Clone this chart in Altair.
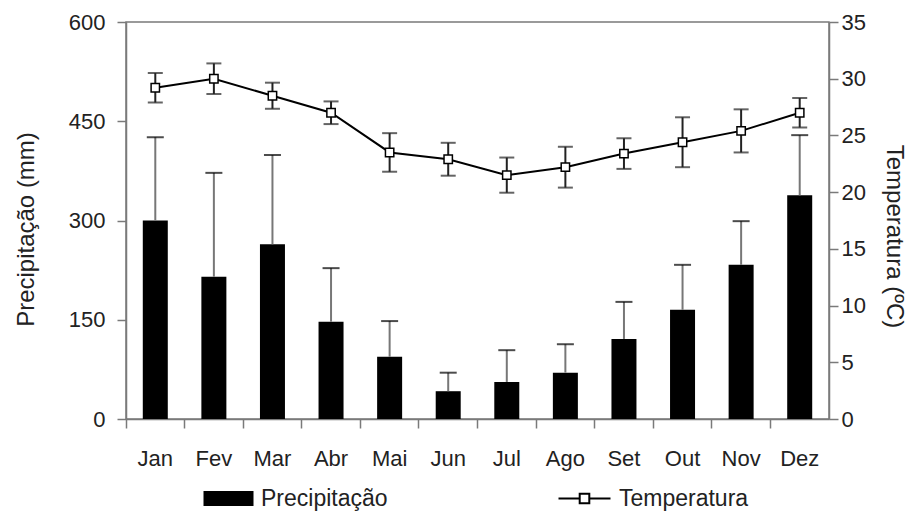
import altair as alt
import pandas as pd

months = ["Jan", "Fev", "Mar", "Abr", "Mai", "Jun", "Jul", "Ago", "Set", "Out", "Nov", "Dez"]
precip = [300, 215, 264, 147, 94, 42, 56, 70, 121, 165, 233, 338]
precip_err = [126, 157, 135, 81, 54, 28, 48, 43, 56, 68, 66, 91]
temp = [29.2, 30.0, 28.5, 27.0, 23.5, 22.9, 21.5, 22.2, 23.4, 24.4, 25.4, 27.0]
temp_err = [1.3, 1.35, 1.15, 1.0, 1.7, 1.45, 1.55, 1.8, 1.35, 2.2, 1.9, 1.3]
precip_ticks = [0, 150, 300, 450, 600]
temp_ticks = [0, 5, 10, 15, 20, 25, 30, 35]

df = pd.DataFrame({
    "mes": months,
    "precip": precip,
    "precip_top": [p + e for p, e in zip(precip, precip_err)],
    "temp": temp,
    "temp_lo": [t - e for t, e in zip(temp, temp_err)],
    "temp_hi": [t + e for t, e in zip(temp, temp_err)],
    "s1": "Precipitação",
    "s2": "Temperatura",
})

FONT = "Liberation Sans"
TXT = "#222222"
AX = "#7a7a7a"
LFS = 22   # tick labels
TFS = 24   # axis titles
GFS = 23   # legend labels

xenc = alt.X(
    "mes:N", sort=months,
    scale=alt.Scale(paddingInner=0, paddingOuter=0),
    axis=alt.Axis(title=None, bandPosition=0, labelAngle=0, labelFontSize=LFS,
                  labelFont=FONT, labelColor=TXT, labelPadding=20, tickSize=9,
                  tickColor=AX, domainColor=AX, domainWidth=1.5, tickWidth=1.5),
)

ax_p = alt.Axis(values=precip_ticks, title="Precipitação (mm)", titleFontSize=TFS,
                titleFont=FONT, titleFontWeight="normal", titleColor=TXT,
                labelFontSize=LFS, labelFont=FONT, labelColor=TXT, tickSize=9,
                tickColor=AX, domainColor=AX, domainWidth=1.5, tickWidth=1.5,
                labelPadding=12, titlePadding=30, titleY=207, grid=False)
ax_t = alt.Axis(orient="right", values=temp_ticks, title="Temperatura (ºC)",
                titleFontSize=TFS, titleFont=FONT, titleFontWeight="normal",
                titleColor=TXT, labelFontSize=LFS, labelFont=FONT, labelColor=TXT,
                tickSize=9, tickColor=AX, domainColor=AX, domainWidth=1.5,
                tickWidth=1.5, labelPadding=3, titlePadding=16, titleY=214, grid=False)
sc_p = alt.Scale(domain=[0, 600])
sc_t = alt.Scale(domain=[0, 35])

base = alt.Chart(df)

bars = base.mark_bar(size=25, color="black").encode(
    x=xenc,
    y=alt.Y("precip:Q", scale=sc_p, axis=ax_p),
    fill=alt.Fill("s1:N", scale=alt.Scale(range=["black"]),
                  legend=alt.Legend(title=None, orient="none", legendX=108, legendY=465,
                                    symbolType="M-5.25,-0.94H1V0.94H-5.25Z", symbolSize=256,
                                    symbolStrokeWidth=0, labelFontSize=GFS, labelFont=FONT,
                                    labelColor=TXT, labelOffset=4)),
)
p_whisk = base.mark_rule(color="#777777", strokeWidth=2).encode(
    x=xenc, y=alt.Y("precip:Q", scale=sc_p, axis=ax_p), y2="precip_top:Q"
)
p_cap = base.mark_tick(color="black", thickness=2, size=17).encode(
    x=xenc, y=alt.Y("precip_top:Q", scale=sc_p, axis=ax_p)
)
precip_layer = alt.layer(bars, p_whisk, p_cap)

t_whisk = base.mark_rule(color="#222222", strokeWidth=2).encode(
    x=xenc, y=alt.Y("temp_lo:Q", scale=sc_t, axis=ax_t), y2="temp_hi:Q"
)
t_cap_lo = base.mark_tick(color="#222222", thickness=2, size=15).encode(
    x=xenc, y=alt.Y("temp_lo:Q", scale=sc_t, axis=ax_t)
)
t_cap_hi = base.mark_tick(color="#222222", thickness=2, size=15).encode(
    x=xenc, y=alt.Y("temp_hi:Q", scale=sc_t, axis=ax_t)
)
t_line = base.mark_line(strokeWidth=2).encode(
    x=xenc,
    y=alt.Y("temp:Q", scale=sc_t, axis=ax_t),
    stroke=alt.Stroke("s2:N", scale=alt.Scale(range=["black"]),
                      legend=alt.Legend(title=None, orient="none", legendX=465, legendY=465,
                                        symbolType="M-5.5,0H-2.85M-1.65,0H1M-2.85,-0.6H-1.65V0.6H-2.85Z",
                                        symbolSize=256, symbolStrokeWidth=2,
                                        symbolFillColor="white", symbolStrokeColor="black",
                                        labelFontSize=GFS, labelFont=FONT, labelColor=TXT,
                                        labelOffset=5)),
)
t_pts = base.mark_point(shape="square", filled=True, fill="white", stroke="black",
                        strokeWidth=1.5, size=70, opacity=1).encode(
    x=xenc, y=alt.Y("temp:Q", scale=sc_t, axis=ax_t)
)
temp_layer = alt.layer(t_whisk, t_cap_lo, t_cap_hi, t_line, t_pts)

chart = alt.layer(precip_layer, temp_layer).resolve_scale(
    y="independent"
).properties(
    width=703, height=397, background="white",
    padding={"left": 6, "top": 3, "right": 4, "bottom": 0}
).configure_view(stroke=AX, strokeWidth=1.5)

chart.save("out.html", embed_options={"renderer": "svg", "actions": False})
